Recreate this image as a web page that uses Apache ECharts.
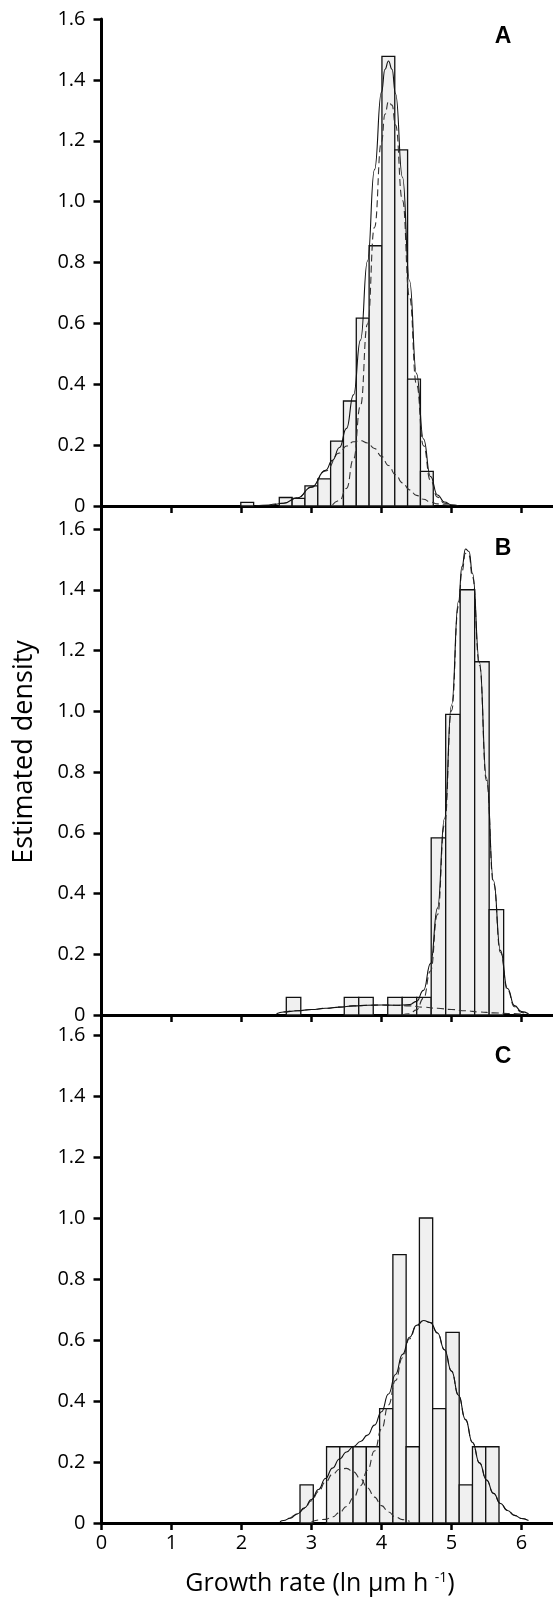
<!DOCTYPE html>
<html><head><meta charset="utf-8">
<script src="https://cdn.jsdelivr.net/npm/echarts@6/dist/echarts.min.js"></script>
<style>html,body{margin:0;padding:0;background:#fff}#c{width:553px;height:1598px}</style>
</head><body><div id="c"></div>
<script>
// ---- tick labels / categories ----
const xTicks = [0, 1, 2, 3, 4, 5, 6];
const yTicks = [0, 0.2, 0.4, 0.6, 0.8, 1.0, 1.2, 1.4, 1.6];
const panelLetters = ['A', 'B', 'C'];

// ---- histogram bins (left edge of first bin, bin width, densities) ----
const binStartA = 1.99, binWidthA = 0.1833;
const heightsA = [0.012, 0, 0, 0.028, 0.025, 0.066, 0.089, 0.213, 0.345, 0.617, 0.855, 1.477, 1.170, 0.417, 0.114];
const binStartB = 2.64, binWidthB = 0.207;
const heightsB = [0.058, 0, 0, 0, 0.058, 0.058, 0, 0.058, 0.058, 0.058, 0.583, 0.990, 1.400, 1.163, 0.347];
const binStartC = 2.836, binWidthC = 0.1895;
const heightsC = [0.125, 0, 0.25, 0.25, 0.25, 0.25, 0.375, 0.88, 0.25, 1.0, 0.375, 0.625, 0.125, 0.25, 0.25];

// ---- fitted curves: [x, density] ----
const solidA = [[2.2,0.001],[2.4,0.003],[2.6,0.009],[2.8,0.027],[3.0,0.062],[3.2,0.117],[3.3,0.150],[3.4,0.192],[3.5,0.255],[3.6,0.365],[3.7,0.545],[3.8,0.805],[3.9,1.105],[4.0,1.360],[4.05,1.435],[4.1,1.462],[4.15,1.435],[4.2,1.355],[4.3,1.080],[4.4,0.740],[4.5,0.435],[4.6,0.220],[4.7,0.097],[4.8,0.036],[4.9,0.013],[5.0,0.004],[5.1,0.001]];
const dashNarrowA = [[3.3,0.004],[3.4,0.018],[3.5,0.058],[3.6,0.154],[3.7,0.330],[3.8,0.598],[3.9,0.916],[4.0,1.197],[4.05,1.287],[4.1,1.329],[4.15,1.317],[4.2,1.252],[4.3,1.004],[4.4,0.687],[4.5,0.400],[4.6,0.198],[4.7,0.084],[4.8,0.029],[4.9,0.009],[5.0,0.002]];
const dashBroadA = [[2.4,0.003],[2.6,0.009],[2.8,0.027],[3.0,0.062],[3.2,0.115],[3.4,0.174],[3.5,0.197],[3.6,0.211],[3.7,0.215],[3.8,0.207],[3.9,0.189],[4.0,0.163],[4.1,0.133],[4.2,0.103],[4.3,0.076],[4.4,0.053],[4.5,0.035],[4.6,0.022],[4.7,0.013],[4.8,0.007],[4.9,0.004],[5.0,0.002]];

const solidB = [[2.5,0.004],[2.6,0.010],[2.8,0.014],[3.0,0.018],[3.2,0.022],[3.4,0.026],[3.6,0.030],[3.8,0.032],[4.0,0.033],[4.2,0.032],[4.4,0.034],[4.5,0.045],[4.6,0.081],[4.7,0.169],[4.8,0.352],[4.9,0.647],[5.0,1.020],[5.1,1.362],[5.15,1.476],[5.2,1.534],[5.25,1.526],[5.3,1.454],[5.4,1.161],[5.5,0.781],[5.6,0.442],[5.7,0.212],[5.8,0.087],[5.9,0.031],[6.0,0.011],[6.1,0.004]];
const dashNarrowB = [[4.3,0.001],[4.4,0.004],[4.5,0.017],[4.6,0.055],[4.7,0.145],[4.8,0.330],[4.9,0.627],[5.0,1.002],[5.1,1.346],[5.15,1.461],[5.2,1.520],[5.25,1.513],[5.3,1.442],[5.4,1.151],[5.5,0.772],[5.6,0.435],[5.7,0.206],[5.8,0.082],[5.9,0.027],[6.0,0.008],[6.1,0.002]];
const dashBroadB = [[2.6,0.010],[2.8,0.014],[3.0,0.018],[3.2,0.022],[3.4,0.026],[3.6,0.030],[3.8,0.032],[4.0,0.033],[4.2,0.032],[4.4,0.030],[4.6,0.026],[4.8,0.022],[5.0,0.018],[5.2,0.014],[5.4,0.010],[5.6,0.007],[5.8,0.005],[6.0,0.003]];

const solidC = [[2.55,0.004],[2.6,0.008],[2.7,0.016],[2.8,0.030],[2.9,0.050],[3.0,0.077],[3.1,0.110],[3.2,0.146],[3.3,0.180],[3.4,0.210],[3.5,0.233],[3.6,0.251],[3.7,0.267],[3.8,0.288],[3.9,0.321],[4.0,0.365],[4.1,0.423],[4.2,0.487],[4.3,0.553],[4.4,0.609],[4.5,0.648],[4.6,0.664],[4.7,0.657],[4.8,0.623],[4.9,0.568],[5.0,0.498],[5.1,0.419],[5.2,0.339],[5.3,0.264],[5.4,0.197],[5.5,0.141],[5.6,0.097],[5.7,0.064],[5.8,0.041],[5.9,0.025],[6.0,0.015],[6.1,0.008]];
const dashSmallC = [[2.7,0.016],[2.8,0.029],[2.9,0.048],[3.0,0.073],[3.1,0.103],[3.2,0.134],[3.3,0.160],[3.4,0.176],[3.5,0.179],[3.6,0.168],[3.7,0.145],[3.8,0.115],[3.9,0.085],[4.0,0.057],[4.1,0.036],[4.2,0.020],[4.3,0.011],[4.4,0.005]];
const dashMainC = [[3.0,0.004],[3.2,0.012],[3.3,0.020],[3.4,0.034],[3.5,0.054],[3.6,0.083],[3.7,0.122],[3.8,0.173],[3.9,0.236],[4.0,0.308],[4.1,0.387],[4.2,0.467],[4.3,0.542],[4.4,0.604],[4.5,0.646],[4.6,0.664],[4.7,0.657],[4.8,0.623],[4.9,0.568],[5.0,0.498],[5.1,0.419],[5.2,0.339],[5.3,0.264],[5.4,0.197],[5.5,0.141],[5.6,0.097],[5.7,0.064],[5.8,0.041],[5.9,0.025],[6.0,0.015],[6.1,0.008]];

// ---- build ----
function bins(start, width, heights) {
  const out = [];
  heights.forEach((h, k) => { if (h > 0) out.push([start + k * width, start + (k + 1) * width, h]); });
  return out;
}
const panels = [
  { bins: bins(binStartA, binWidthA, heightsA), solid: solidA, dashes: [dashNarrowA, dashBroadA] },
  { bins: bins(binStartB, binWidthB, heightsB), solid: solidB, dashes: [dashNarrowB, dashBroadB] },
  { bins: bins(binStartC, binWidthC, heightsC), solid: solidC, dashes: [dashSmallC, dashMainC] }
];

const FONT = '"Open Sans", "Noto Sans", sans-serif';
const gridLayout = [
  { top: 19, height: 487, yMax: 1.6 },
  { top: 506, height: 509, yMax: 1.6 * 509 / 486 },
  { top: 1015, height: 508, yMax: 1.6 * 508 / 488 }
];

const grid = [], xAxis = [], yAxis = [], series = [];
gridLayout.forEach((g, i) => {
  grid.push({ left: 101.5, right: 0, top: g.top, height: g.height, containLabel: false });
  xAxis.push({
    type: 'value', gridIndex: i, min: 0, max: 6.45,
    axisLine: { show: true, onZero: false, lineStyle: { color: '#000', width: 3 } },
    axisTick: { show: true, length: 7, inside: false, customValues: xTicks, lineStyle: { color: '#000', width: 2.5 } },
    axisLabel: { show: i === 2, customValues: xTicks, fontSize: 20, color: '#000', fontFamily: FONT, margin: 10 },
    splitLine: { show: false }
  });
  yAxis.push({
    type: 'value', gridIndex: i, min: 0, max: g.yMax,
    axisLine: { show: true, onZero: false, lineStyle: { color: '#000', width: 3 } },
    axisTick: { show: true, length: 8, inside: false, customValues: yTicks, lineStyle: { color: '#000', width: 2.5 } },
    axisLabel: { customValues: yTicks, fontSize: 20, color: '#000', fontFamily: FONT, margin: 16,
      formatter: v => (Math.abs(v) < 1e-9 ? '0' : Number(v).toFixed(1)) },
    splitLine: { show: false }
  });
  const p = panels[i];
  series.push({
    type: 'custom', xAxisIndex: i, yAxisIndex: i, silent: true, z: 1,
    data: p.bins, encode: { x: [0, 1], y: 2 },
    renderItem: (params, api) => {
      const a = api.coord([api.value(0), api.value(2)]);
      const b = api.coord([api.value(1), 0]);
      return { type: 'rect', shape: { x: a[0], y: a[1], width: b[0] - a[0], height: b[1] - a[1] },
        style: { fill: '#f0f0f0', stroke: '#111', lineWidth: 1.3 } };
    }
  });
  p.dashes.forEach(d => series.push({
    type: 'line', xAxisIndex: i, yAxisIndex: i, data: d, showSymbol: false, smooth: true, smoothMonotone: 'x',
    silent: true, z: 2, lineStyle: { color: '#333', width: 1.1, type: [7, 4] }
  }));
  series.push({
    type: 'line', xAxisIndex: i, yAxisIndex: i, data: p.solid, showSymbol: false, smooth: true, smoothMonotone: 'x',
    silent: true, z: 3, lineStyle: { color: '#111', width: 1.1 }
  });
});

const letterY = [37, 549, 1057];
const graphic = panelLetters.map((t, i) => ({
  type: 'text', x: 503, y: letterY[i],
  style: { text: t, font: 'bold 23px "Liberation Sans", Arial, sans-serif', fill: '#000', align: 'center', verticalAlign: 'middle' }
}));
graphic.push({
  type: 'text', x: 24, y: 752, rotation: Math.PI / 2,
  style: { text: 'Estimated density', font: '27px ' + FONT, fill: '#000', align: 'center', verticalAlign: 'middle' }
});
graphic.push({
  type: 'text', x: 320, y: 1584,
  style: { text: 'Growth rate (ln µm h {sup|-1})', font: '25px ' + FONT, fill: '#000', align: 'center', verticalAlign: 'middle',
    rich: { sup: { fontSize: 14, fontFamily: FONT, verticalAlign: 'top', fill: '#000' } } }
});

const chart = echarts.init(document.getElementById('c'), null, { renderer: 'canvas' });
chart.setOption({ animation: false, backgroundColor: '#fff', grid, xAxis, yAxis, series, graphic });
</script></body></html>
